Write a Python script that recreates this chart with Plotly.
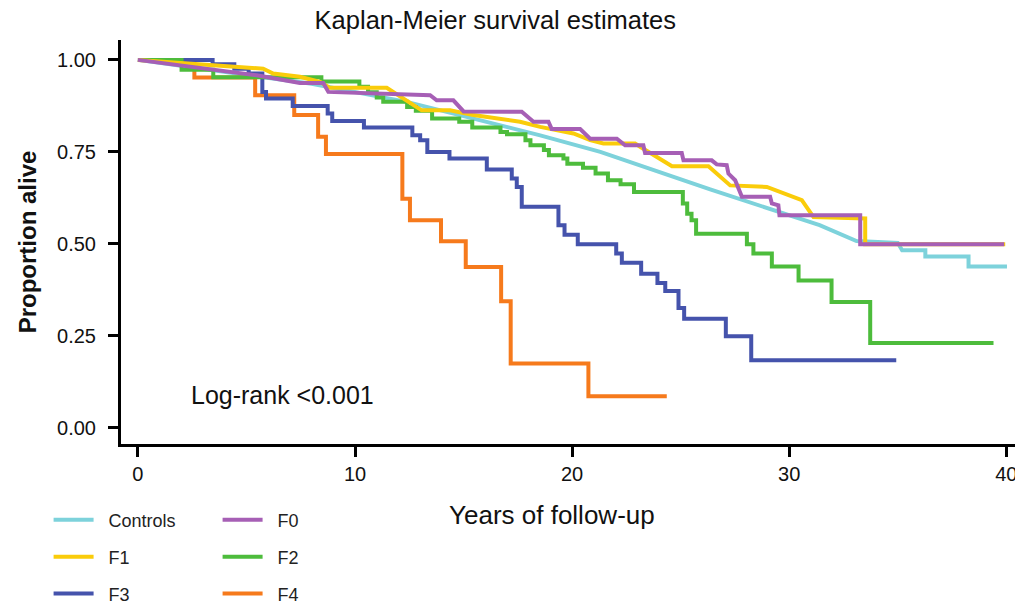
import plotly.graph_objects as go

# ---------------- data ----------------
groups = ["Controls", "F0", "F1", "F2", "F3", "F4"]
colors = {"Controls": "#7DD2DB", "F0": "#A65FB5", "F1": "#FACC0A",
          "F2": "#4DBC3C", "F3": "#4553AC", "F4": "#F67A1C"}

# curves drawn through their vertices
controls_t = [0, 4, 8, 12.38, 15.45, 18.53, 21.3, 26.36, 31.4, 33.1, 35.0, 35.2, 36.27, 36.27, 38.26, 38.26, 40.03]
controls_s = [1.0, 0.968, 0.935, 0.886, 0.841, 0.795, 0.750, 0.648, 0.551, 0.508, 0.503, 0.483, 0.483, 0.466, 0.466, 0.439, 0.439]

f0_t = [0, 3.16, 5.47, 7.46, 8.54, 8.77, 11.3, 13.46, 13.76, 14.53, 15.0, 17.68, 18.22, 18.91, 19.06, 20.37,
        20.83, 22.06, 22.44, 23.28, 23.36, 25.05, 25.13, 26.43, 26.66, 27.12, 27.2, 27.51, 27.82, 29.12, 29.2,
        29.5, 29.55, 33.27, 33.27, 39.9]
f0_s = [1.0, 0.976, 0.958, 0.937, 0.937, 0.913, 0.908, 0.904, 0.890, 0.890, 0.860, 0.859, 0.832, 0.832, 0.812, 0.812,
        0.786, 0.786, 0.768, 0.768, 0.747, 0.747, 0.727, 0.727, 0.716, 0.714, 0.691, 0.673, 0.628, 0.628, 0.610,
        0.605, 0.578, 0.578, 0.499, 0.499]

f1_t = [0, 5.77, 6.23, 7.46, 8.39, 8.85, 11.46, 12.84, 13.07, 14.38, 15.45, 17.6, 18.53, 20.06, 20.83, 21.44, 22.9,
        23.13, 23.9, 24.6, 26.28, 27.28, 28.97, 29.74, 30.58, 31.12, 33.5, 33.5, 39.95]
f1_s = [1.0, 0.976, 0.963, 0.954, 0.940, 0.924, 0.924, 0.872, 0.863, 0.863, 0.850, 0.832, 0.818, 0.800, 0.782, 0.773, 0.773,
        0.764, 0.736, 0.711, 0.711, 0.659, 0.655, 0.637, 0.619, 0.573, 0.569, 0.499, 0.499]

# step curves: event times and survival after each event
f2_t = [0, 2.01, 3.47, 8.45, 10.2, 10.6, 11.0, 11.3, 12.4, 12.8, 13.55, 14.8, 15.4, 16.7, 17.0, 17.85, 18.08, 18.7,
        18.93, 19.6, 19.78, 20.5, 21.08, 21.65, 22.23, 22.85, 25.1, 25.3, 25.5, 25.71, 28.05, 28.35, 29.2, 30.43,
        31.95, 33.73, 39.41]
f2_s = [1.0, 0.973, 0.953, 0.941, 0.927, 0.912, 0.898, 0.886, 0.872, 0.862, 0.841, 0.832, 0.816, 0.804, 0.798, 0.782,
        0.768, 0.755, 0.741, 0.732, 0.718, 0.707, 0.691, 0.673, 0.662, 0.641, 0.610, 0.582, 0.564, 0.528, 0.499,
        0.474, 0.439, 0.401, 0.342, 0.231, 0.231]

f3_t = [0, 3.44, 4.44, 5.1, 5.73, 5.9, 7.13, 8.74, 8.95, 10.41, 12.64, 13.0, 13.33, 14.35, 16.07, 17.22, 17.45, 17.68,
        19.37, 19.65, 20.26, 22.03, 22.29, 23.18, 23.93, 24.29, 24.9, 25.16, 27.08, 28.25, 34.93]
f3_s = [1.0, 0.988, 0.976, 0.963, 0.913, 0.895, 0.875, 0.854, 0.834, 0.816, 0.795, 0.782, 0.750, 0.732, 0.702, 0.678,
        0.655, 0.601, 0.551, 0.525, 0.499, 0.474, 0.449, 0.419, 0.394, 0.372, 0.326, 0.297, 0.249, 0.184, 0.184]

f4_t = [0, 2.6, 5.4, 7.2, 8.3, 8.66, 12.18, 12.53, 13.96, 15.1, 16.73, 17.17, 20.75, 24.36]
f4_s = [1.0, 0.952, 0.904, 0.850, 0.791, 0.744, 0.623, 0.564, 0.507, 0.4375, 0.344, 0.175, 0.086, 0.086]

y_ticks = [0.0, 0.25, 0.5, 0.75, 1.0]
y_tick_labels = ["0.00", "0.25", "0.50", "0.75", "1.00"]
x_ticks = [0, 10, 20, 30, 40]

series = {
    "Controls": (controls_t, controls_s, "linear"),
    "F0": (f0_t, f0_s, "linear"),
    "F1": (f1_t, f1_s, "linear"),
    "F2": (f2_t, f2_s, "hv"),
    "F3": (f3_t, f3_s, "hv"),
    "F4": (f4_t, f4_s, "hv"),
}
legend_of = {"Controls": "legend", "F0": "legend", "F1": "legend2", "F2": "legend2", "F3": "legend3", "F4": "legend3"}
draw_order = ["Controls", "F4", "F3", "F2", "F1", "F0"]

FONT = "Liberation Sans, Arial, Helvetica, sans-serif"
NB = "\u00a0\u00a0"  # small gap between legend line and its label

fig = go.Figure()
for g in draw_order:
    t, s, shape = series[g]
    fig.add_trace(go.Scatter(
        x=t, y=s, mode="lines", name=NB + g,
        line=dict(color=colors[g], width=4, shape=shape),
        legend=legend_of[g], legendrank=groups.index(g) + 1,
        hoverinfo="skip",
    ))

leg_common = dict(orientation="h", xanchor="left", yanchor="middle", x=-0.081,
                  font=dict(family=FONT, size=18, color="#222222"),
                  itemwidth=40, entrywidth=114, bgcolor="rgba(0,0,0,0)", borderwidth=0)

fig.update_layout(
    width=1015, height=606,
    margin=dict(l=121, r=0, t=40, b=162, autoexpand=False),
    paper_bgcolor="white", plot_bgcolor="white",
    showlegend=True,
    legend=dict(**leg_common, y=-0.188),
    legend2=dict(**leg_common, y=-0.280),
    legend3=dict(**leg_common, y=-0.371),
    title=dict(text="Kaplan-Meier survival estimates", x=0.488, xref="container", xanchor="center",
               y=0.967, yref="container", yanchor="middle",
               font=dict(family=FONT, size=25.5, color="#111111")),
    font=dict(family=FONT, color="#111111"),
)

fig.update_xaxes(
    range=[-0.78, 40.4], tickvals=x_ticks, ticks="outside", ticklen=10, tickwidth=3, tickcolor="black",
    showline=True, linewidth=3, linecolor="black", showgrid=False, zeroline=False,
    tickfont=dict(family=FONT, size=20, color="#111111"), automargin=False, ticklabeloverflow="allow",
)
fig.update_yaxes(
    range=[-0.0435, 1.054], tickvals=y_ticks, ticktext=y_tick_labels, ticks="outside", ticklen=10, tickwidth=3,
    tickcolor="black", showline=True, linewidth=3, linecolor="black", showgrid=False, zeroline=False,
    tickfont=dict(family=FONT, size=20, color="#111111"), automargin=False, ticklabelstandoff=8,
    title=dict(text="<b>Proportion alive</b>", font=dict(family=FONT, size=24, color="#111111"), standoff=14),
)

fig.add_annotation(text="Years of follow-up", xref="paper", yref="paper", x=0.482, y=-0.176,
                   xanchor="center", yanchor="middle", showarrow=False,
                   font=dict(family=FONT, size=26, color="#111111"))
fig.add_annotation(text="Log-rank <0.001", xref="x", yref="y", x=2.35, y=0.09,
                   xanchor="left", yanchor="middle", showarrow=False,
                   font=dict(family=FONT, size=25, color="#111111"))

fig.write_html("out.html", config={"displayModeBar": False},
               post_script="document.body.style.margin='0';")
